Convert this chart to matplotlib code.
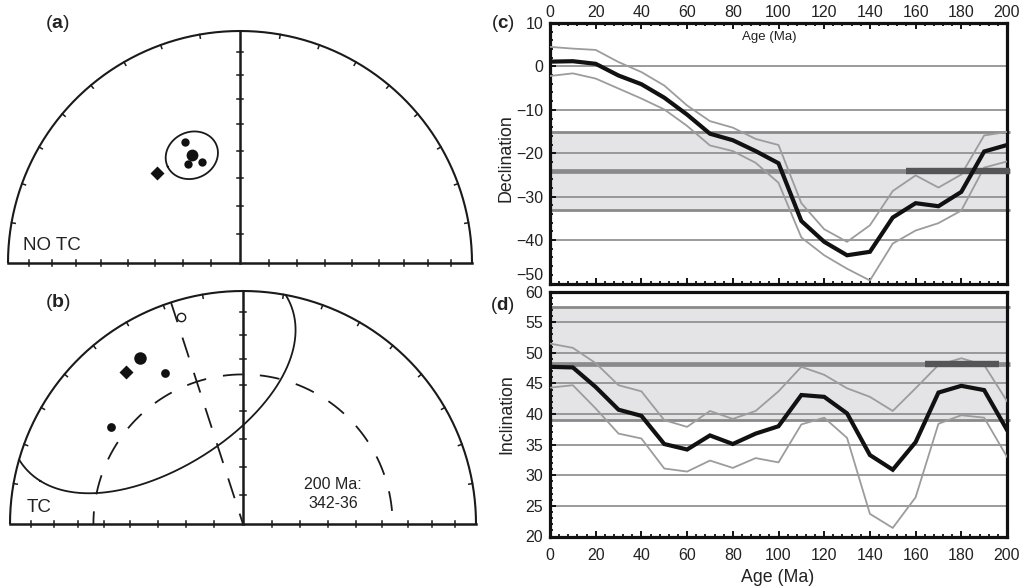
import numpy as np
import matplotlib
matplotlib.use("Agg")
import matplotlib.pyplot as plt
from matplotlib.ticker import MultipleLocator

plt.rcParams['font.family'] = ['Liberation Sans', 'DejaVu Sans']
plt.rcParams['mathtext.fontset'] = 'custom'
plt.rcParams['mathtext.rm'] = 'Liberation Sans'
plt.rcParams['mathtext.bf'] = 'Liberation Sans:bold'

# ---------------- site-mean directions (declination, inclination) ----------------
# in situ (no tilt correction)
notc_site_dec = [335.5, 332.4, 339.2]
notc_site_inc = [42.3, 50.2, 51.6]
notc_mean_dec, notc_mean_inc, notc_a95 = 335.9, 47.7, 8.7
notc_ref_dec, notc_ref_inc = 317.5, 46.2

# tilt corrected
tc_site_dec = [332.6, 306.4]
tc_site_inc = [27.7, 30.3]
tc_up_dec, tc_up_inc = 343.4, -7.9
tc_mean_dec, tc_mean_inc, tc_a95 = 328.3, 17.2, 45.0
tc_ref_dec, tc_ref_inc = 322.3, 18.7

# expected direction at 200 Ma
exp_dec, exp_inc = 342.0, 36.0

# ---------------- expected declination / inclination vs age ----------------
ages = [0, 10, 20, 30, 40, 50, 60, 70, 80, 90, 100,
        110, 120, 130, 140, 150, 160, 170, 180, 190, 200]
dec_exp = [1.1, 1.2, 0.6, -2.1, -4.1, -7.2, -11.1, -15.5, -17.0, -19.5, -22.3,
           -35.6, -40.4, -43.5, -42.7, -34.8, -31.5, -32.2, -28.9, -19.6, -18.1]
dec_upper = [4.5, 4.1, 3.8, 1.0, -1.3, -4.4, -9.0, -12.6, -14.1, -16.7, -18.1,
             -31.5, -37.5, -40.4, -36.6, -28.7, -25.1, -27.9, -24.9, -15.9, -15.1]
dec_lower = [-2.2, -1.6, -2.8, -5.1, -7.4, -9.9, -13.7, -18.2, -19.5, -22.2, -26.8,
             -39.4, -43.5, -46.6, -49.3, -40.8, -37.8, -36.1, -33.2, -23.3, -21.9]

inc_exp = [47.7, 47.6, 44.4, 40.7, 39.7, 35.1, 34.2, 36.5, 35.1, 36.8, 38.0,
           43.1, 42.8, 40.1, 33.3, 30.9, 35.4, 43.5, 44.6, 43.9, 37.4]
inc_upper = [51.5, 50.8, 48.3, 44.7, 43.7, 39.0, 37.9, 40.5, 39.2, 40.5, 43.7,
             47.7, 46.4, 44.2, 42.8, 40.5, 44.2, 48.0, 49.1, 48.0, 42.1]
inc_lower = [44.3, 44.7, 40.9, 36.8, 36.0, 31.1, 30.6, 32.4, 31.2, 32.8, 32.1,
             38.3, 39.4, 36.1, 23.7, 21.4, 26.4, 38.4, 39.8, 39.4, 33.0]

# observed mean with confidence band, and age span of the rocks
obs_dec, obs_dec_lo, obs_dec_hi = -24.2, -33.0, -15.1
obs_inc, obs_inc_lo, obs_inc_hi = 48.2, 39.0, 57.4
dec_age_span = [156, 201.5]
inc_age_span = [164, 196.5]

dec_ticks = [10, 0, -10, -20, -30, -40, -50]
dec_tick_labels = ['10', '0', '\u221210', '\u221220', '\u221230', '\u221240', '\u221250']

W, H = 1028, 588
fig = plt.figure(figsize=(W / 100, H / 100), dpi=100)


def rect(x0, y0, x1, y1):
    return [x0 / W, 1 - y1 / H, (x1 - x0) / W, (y1 - y0) / H]


def project(dec, inc):
    d = np.radians(np.asarray(dec, float))
    i = np.radians(np.abs(np.asarray(inc, float)))
    r = np.sqrt(2) * np.sin((np.pi / 2 - i) / 2)
    return r * np.sin(d), r * np.cos(d)


def eqarea_r(inc):
    return np.sqrt(2) * np.sin(np.radians(90 - inc) / 2)


def cone(dec, inc, a95, n=721):
    d, i = np.radians(dec), np.radians(inc)
    v = np.array([np.cos(i) * np.cos(d), np.cos(i) * np.sin(d), np.sin(i)])
    u = np.cross(v, [0, 0, 1.0]); u /= np.linalg.norm(u)
    w = np.cross(v, u)
    t = np.linspace(0, 2 * np.pi, n)
    a = np.radians(a95)
    p = np.cos(a) * v[:, None] + np.sin(a) * (np.cos(t) * u[:, None] + np.sin(t) * w[:, None])
    pd = np.degrees(np.arctan2(p[1], p[0]))
    pi = np.degrees(np.arcsin(np.clip(p[2], -1, 1)))
    x, y = project(pd, pi)
    x[pi < 0] = np.nan
    y[pi < 0] = np.nan
    return x, y


def draw_net(ax):
    th = np.radians(np.linspace(-90, 90, 361))
    ax.plot(np.sin(th), np.cos(th), color='#1a1a1a', lw=1.5, solid_capstyle='butt')
    ax.plot([-1, 1], [0, 0], color='#1a1a1a', lw=1.8)
    ax.plot([0, 0], [0, 1], color='#1a1a1a', lw=1.8)
    tl = 0.016
    for az in range(-80, 81, 10):
        if az == 0:
            continue
        a = np.radians(az)
        ax.plot([np.sin(a), (1 - tl) * np.sin(a)], [np.cos(a), (1 - tl) * np.cos(a)],
                color='#1a1a1a', lw=1.1)
    for inc in range(10, 90, 10):
        r = eqarea_r(inc)
        ax.plot([-0.013, 0.013], [r, r], color='#1a1a1a', lw=1.1)
        for s in (-1, 1):
            ax.plot([s * r, s * r], [-0.012, 0.012], color='#1a1a1a', lw=1.1)


# ---------------- (a) in situ ----------------
cx, cy, R = 240, 263, 232
axa = fig.add_axes(rect(0, 0, 490, 280))
axa.set_xlim((0 - cx) / R, (490 - cx) / R)
axa.set_ylim((cy - 280) / R, cy / R)
axa.axis('off')
draw_net(axa)
x, y = cone(notc_mean_dec, notc_mean_inc, notc_a95)
axa.plot(x, y, color='#1a1a1a', lw=1.3)
x, y = project(notc_site_dec, notc_site_inc)
axa.plot(x, y, 'o', color='#111111', ms=6.0, mec='none')
x, y = project(notc_mean_dec, notc_mean_inc)
axa.plot(x, y, 'o', color='#111111', ms=8.5, mec='none')
x, y = project(notc_ref_dec, notc_ref_inc)
axa.plot(x, y, 'D', color='#111111', ms=7.0, mec='none')
axa.text((23 - cx) / R, (cy - 245) / R, 'NO TC', fontsize=13.5, ha='left', va='center',
         color='#222222')
axa.text((45 - cx) / R, (cy - 24) / R, r'($\mathbf{a}$)', fontsize=14, ha='left', va='center',
         color='#222222')

# ---------------- (b) tilt corrected ----------------
cx, cy, R = 243, 524, 233
axb = fig.add_axes(rect(0, 280, 490, 588))
axb.set_xlim((0 - cx) / R, (490 - cx) / R)
axb.set_ylim((cy - 588) / R, (cy - 280) / R)
axb.axis('off')
draw_net(axb)
x, y = cone(tc_mean_dec, tc_mean_inc, tc_a95)
axb.plot(x, y, color='#1a1a1a', lw=1.3)
th = np.radians(np.linspace(-90, 90, 361))
r0 = eqarea_r(exp_inc)
axb.plot(r0 * np.sin(th), r0 * np.cos(th), color='#1a1a1a', lw=1.3, ls=(4, (11, 9.5)))
dr = np.radians(exp_dec)
axb.plot([np.sin(dr), 0], [np.cos(dr), 0], color='#1a1a1a', lw=1.3, ls=(0, (11.5, 9)))
x, y = project(tc_site_dec, tc_site_inc)
axb.plot(x, y, 'o', color='#111111', ms=6.3, mec='none')
x, y = project(tc_mean_dec, tc_mean_inc)
axb.plot(x, y, 'o', color='#111111', ms=9.0, mec='none')
x, y = project(tc_ref_dec, tc_ref_inc)
axb.plot(x, y, 'D', color='#111111', ms=7.0, mec='none')
x, y = project(tc_up_dec, tc_up_inc)
axb.plot(x, y, 'o', mfc='white', mec='#1a1a1a', mew=1.0, ms=6.0)
axb.text((27 - cx) / R, (cy - 507) / R, 'TC', fontsize=13.5, ha='left', va='center',
         color='#222222')
axb.text((45 - cx) / R, (cy - 302) / R, r'($\mathbf{b}$)', fontsize=14, ha='left', va='center',
         color='#222222')
axb.text((333 - cx) / R, (cy - 494) / R, '200 Ma:\n342-36', fontsize=11.5, ha='center',
         va='center', linespacing=1.35, color='#222222')

# ---------------- (c) declination / (d) inclination ----------------
GRID = '#8a8a8a'
BAND = '#e4e4e6'
SERIES = '#9c9c9c'


def style_axis(ax):
    for s in ax.spines.values():
        s.set_linewidth(2.3)
        s.set_color('#111111')
    ax.tick_params(which='both', direction='in', colors='#111111', labelsize=11.5,
                   labelcolor='#222222')
    ax.tick_params(which='major', length=4, width=1.4)
    ax.tick_params(which='minor', length=2.5, width=1.3)
    ax.xaxis.set_major_locator(MultipleLocator(20))
    ax.xaxis.set_minor_locator(MultipleLocator(4))
    ax.tick_params(axis='y', which='both', right=False, pad=5)


def draw_panel(ax, lo, hi, mean, span, grid_vals, upper, lower, central):
    ax.axhspan(lo, hi, color=BAND, zorder=0, lw=0)
    for v in grid_vals:
        ax.axhline(v, color=GRID, lw=1.2, zorder=1)
    for v in (lo, hi):
        ax.plot([0, 201.2], [v, v], color=GRID, lw=2.0, zorder=2, clip_on=False,
                solid_capstyle='butt')
    ax.plot([0, 201.2], [mean, mean], color=GRID, lw=3.4, zorder=2, clip_on=False,
            solid_capstyle='butt')
    ax.plot(ages, upper, color=SERIES, lw=1.3, zorder=3)
    ax.plot(ages, lower, color=SERIES, lw=1.3, zorder=3)
    ax.plot(span, [mean, mean], color='#555555', lw=4.6, zorder=4, clip_on=False,
            solid_capstyle='butt')
    ax.plot(ages, central, color='#111111', lw=3.0, zorder=5, solid_joinstyle='miter')


axc = fig.add_axes(rect(550, 23, 1007, 283.5))
axc.set_xlim(0, 200)
axc.set_ylim(-50, 10)
style_axis(axc)
axc.yaxis.set_major_locator(MultipleLocator(10))
axc.yaxis.set_minor_locator(MultipleLocator(2))
axc.tick_params(axis='x', which='both', top=True, bottom=True, labeltop=True,
                labelbottom=False, pad=2)
axc.set_yticks(dec_ticks)
axc.set_yticklabels(dec_tick_labels)
# the lowest label sits just above the frame corner
axc.get_yticklabels()[-1].set_verticalalignment('bottom')
draw_panel(axc, obs_dec_lo, obs_dec_hi, obs_dec, dec_age_span, [0, -10, -20, -30, -40],
           dec_upper, dec_lower, dec_exp)
axc.text(0.48, 0.945, 'Age (Ma)', transform=axc.transAxes, ha='center', va='center',
         fontsize=9.5, color='#222222')

axd = fig.add_axes(rect(550, 291.5, 1007, 536.5))
axd.set_xlim(0, 200)
axd.set_ylim(20, 60)
style_axis(axd)
axd.yaxis.set_major_locator(MultipleLocator(5))
axd.yaxis.set_minor_locator(MultipleLocator(1))
axd.tick_params(axis='x', which='both', top=False, bottom=True, pad=8)
draw_panel(axd, obs_inc_lo, obs_inc_hi, obs_inc, inc_age_span, [25, 30, 35, 40, 45, 50, 55],
           inc_upper, inc_lower, inc_exp)

fig.text(506 / W, 1 - 158 / H, 'Declination', rotation=90, ha='center', va='center',
         fontsize=12.8, color='#222222')
fig.text(507 / W, 1 - 414 / H, 'Inclination', rotation=90, ha='center', va='center',
         fontsize=12.8, color='#222222')
fig.text(778 / W, 1 - 577 / H, 'Age (Ma)', ha='center', va='center', fontsize=12.8,
         color='#222222')
fig.text(503 / W, 1 - 23 / H, r'($\mathbf{c}$)', ha='center', va='center', fontsize=13.5,
         color='#222222')
fig.text(502 / W, 1 - 305 / H, r'($\mathbf{d}$)', ha='center', va='center', fontsize=13.5,
         color='#222222')

fig.savefig('out.png', dpi=100)
